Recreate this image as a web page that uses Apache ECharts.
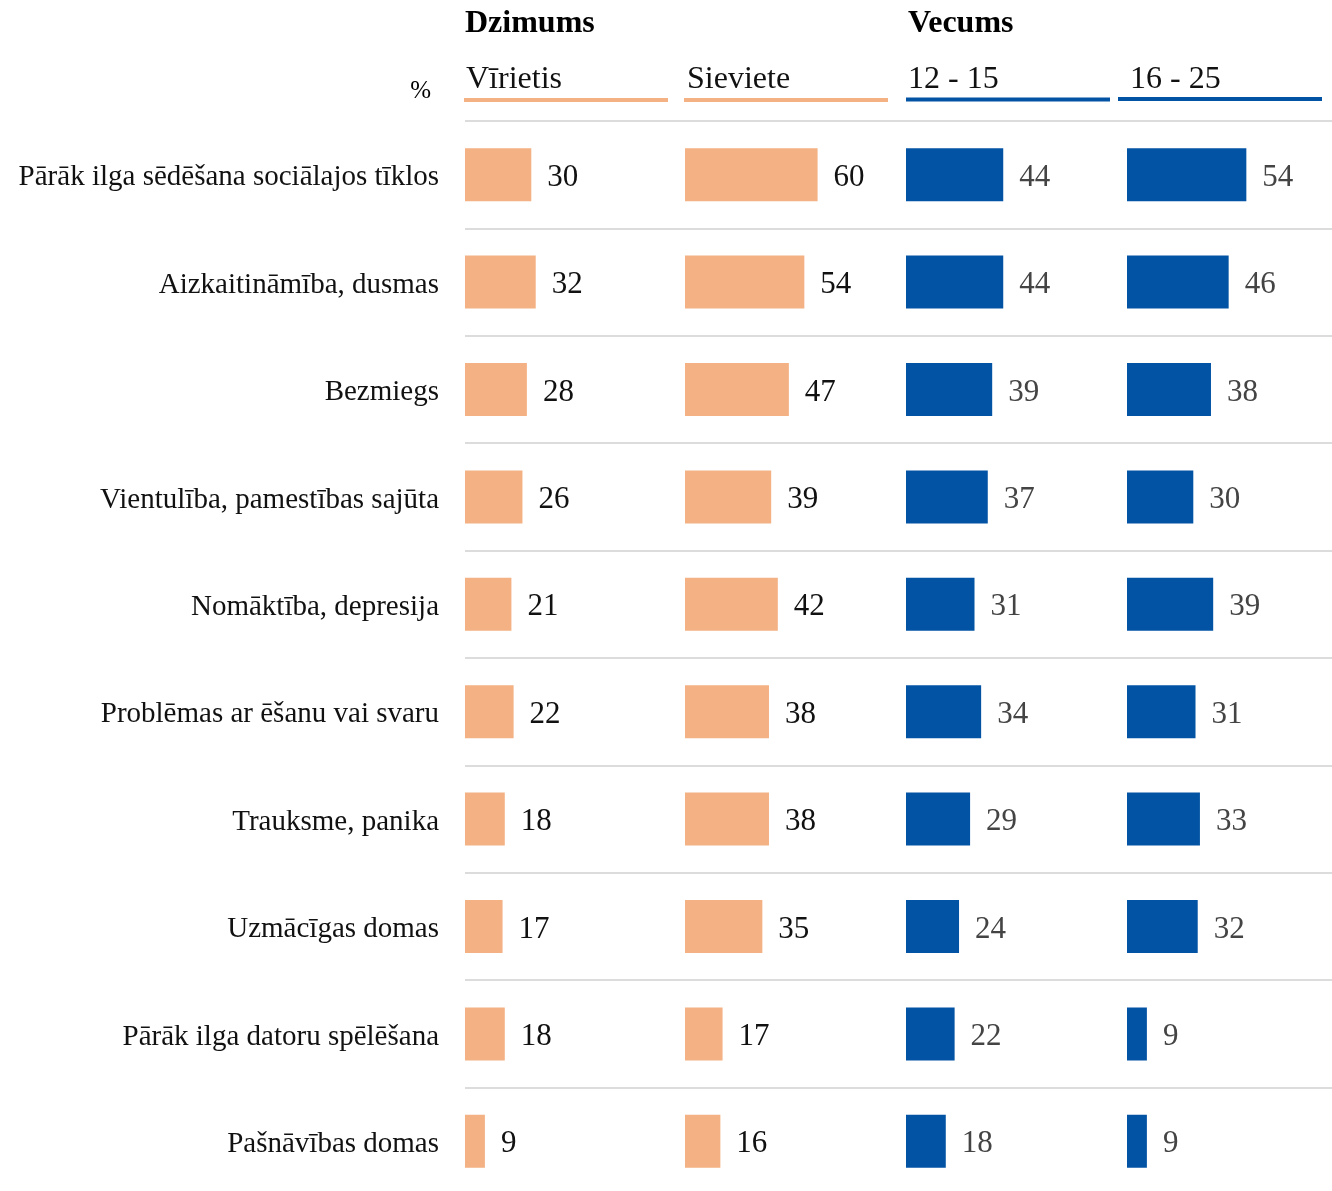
<!DOCTYPE html>
<html>
<head>
<meta charset="utf-8">
<script src="https://cdn.jsdelivr.net/npm/echarts@6/dist/echarts.min.js"></script>
<style>html,body{margin:0;padding:0;background:#fff;overflow:hidden}#c{width:1360px;height:1210px}</style>
</head>
<body>
<div id="c"></div>
<script>
const categories = [
  'Pārāk ilga sēdēšana sociālajos tīklos',
  'Aizkaitināmība, dusmas',
  'Bezmiegs',
  'Vientulība, pamestības sajūta',
  'Nomāktība, depresija',
  'Problēmas ar ēšanu vai svaru',
  'Trauksme, panika',
  'Uzmācīgas domas',
  'Pārāk ilga datoru spēlēšana',
  'Pašnāvības domas'
];
const groupTitles = ['Dzimums', 'Vecums'];
const panelNames = ['Vīrietis', 'Sieviete', '12 - 15', '16 - 25'];
const virietis = [30, 32, 28, 26, 21, 22, 18, 17, 18, 9];
const sieviete = [60, 54, 47, 39, 42, 38, 38, 35, 17, 16];
const vecums1215 = [44, 44, 39, 37, 31, 34, 29, 24, 22, 18];
const vecums1625 = [54, 46, 38, 30, 39, 31, 33, 32, 9, 9];
const unitLabel = '%';

const seriesData = [virietis, sieviete, vecums1215, vecums1625];
const ORANGE = '#F4B183', BLUE = '#0353A4';
const colors = [ORANGE, ORANGE, BLUE, BLUE];
const labelColors = ['#111', '#111', '#444', '#444'];
const lefts = [465, 685, 906, 1127];
const FONT = '"Liberation Serif", "Times New Roman", serif';

const grids = [], xAxes = [], yAxes = [], series = [];
for (let i = 0; i < 4; i++) {
  grids.push({ left: lefts[i], top: 121, width: 221, height: 1074 });
  xAxes.push({ type: 'value', gridIndex: i, min: 0, max: 100, show: false, splitLine: { show: false } });
  yAxes.push({
    type: 'category', gridIndex: i, data: categories, inverse: true,
    axisLine: { show: false }, axisTick: { show: false },
    axisLabel: i === 0 ? {
      show: true, margin: 26, color: '#111',
      formatter: v => '{c|' + v + '}',
      rich: { c: { fontSize: 29, fontFamily: FONT, color: '#111', padding: [6, 0, 0, 0] } }
    } : { show: false },
    splitLine: { show: true, lineStyle: { color: '#dcdcdc', width: 2 } }
  });
  series.push({
    type: 'bar', xAxisIndex: i, yAxisIndex: i, data: seriesData[i],
    barWidth: 53, itemStyle: { color: colors[i] },
    label: { show: true, position: 'right', distance: 16, offset: [0, 3], fontSize: 31, fontFamily: FONT, color: labelColors[i] },
    silent: true, animation: false
  });
}

const underlines = [[464, 668, ORANGE, 100], [684, 888, ORANGE, 100], [906, 1110, BLUE, 99.5], [1118, 1322, BLUE, 99]];
const graphic = [
  { type: 'text', style: { x: 465, y: 24, text: groupTitles[0], font: 'bold 32px ' + FONT, fill: '#000', verticalAlign: 'middle' } },
  { type: 'text', style: { x: 908, y: 24, text: groupTitles[1], font: 'bold 32px ' + FONT, fill: '#000', verticalAlign: 'middle' } },
  { type: 'text', style: { x: 431, y: 91, text: unitLabel, font: '25px ' + FONT, fill: '#000', align: 'right', verticalAlign: 'middle' } }
];
const subX = [466, 687, 908, 1130];
for (let i = 0; i < 4; i++) {
  graphic.push({ type: 'text', style: { x: subX[i], y: 80, text: panelNames[i], font: '32px ' + FONT, fill: '#111', verticalAlign: 'middle' } });
  const u = underlines[i];
  graphic.push({ type: 'rect', shape: { x: u[0], y: u[3] - 2, width: u[1] - u[0], height: 4 }, style: { fill: u[2] } });
}

const chart = echarts.init(document.getElementById('c'), null, { renderer: 'canvas' });
chart.setOption({
  animation: false,
  backgroundColor: '#fff',
  grid: grids, xAxis: xAxes, yAxis: yAxes, series: series, graphic: graphic
});
</script>
</body>
</html>
